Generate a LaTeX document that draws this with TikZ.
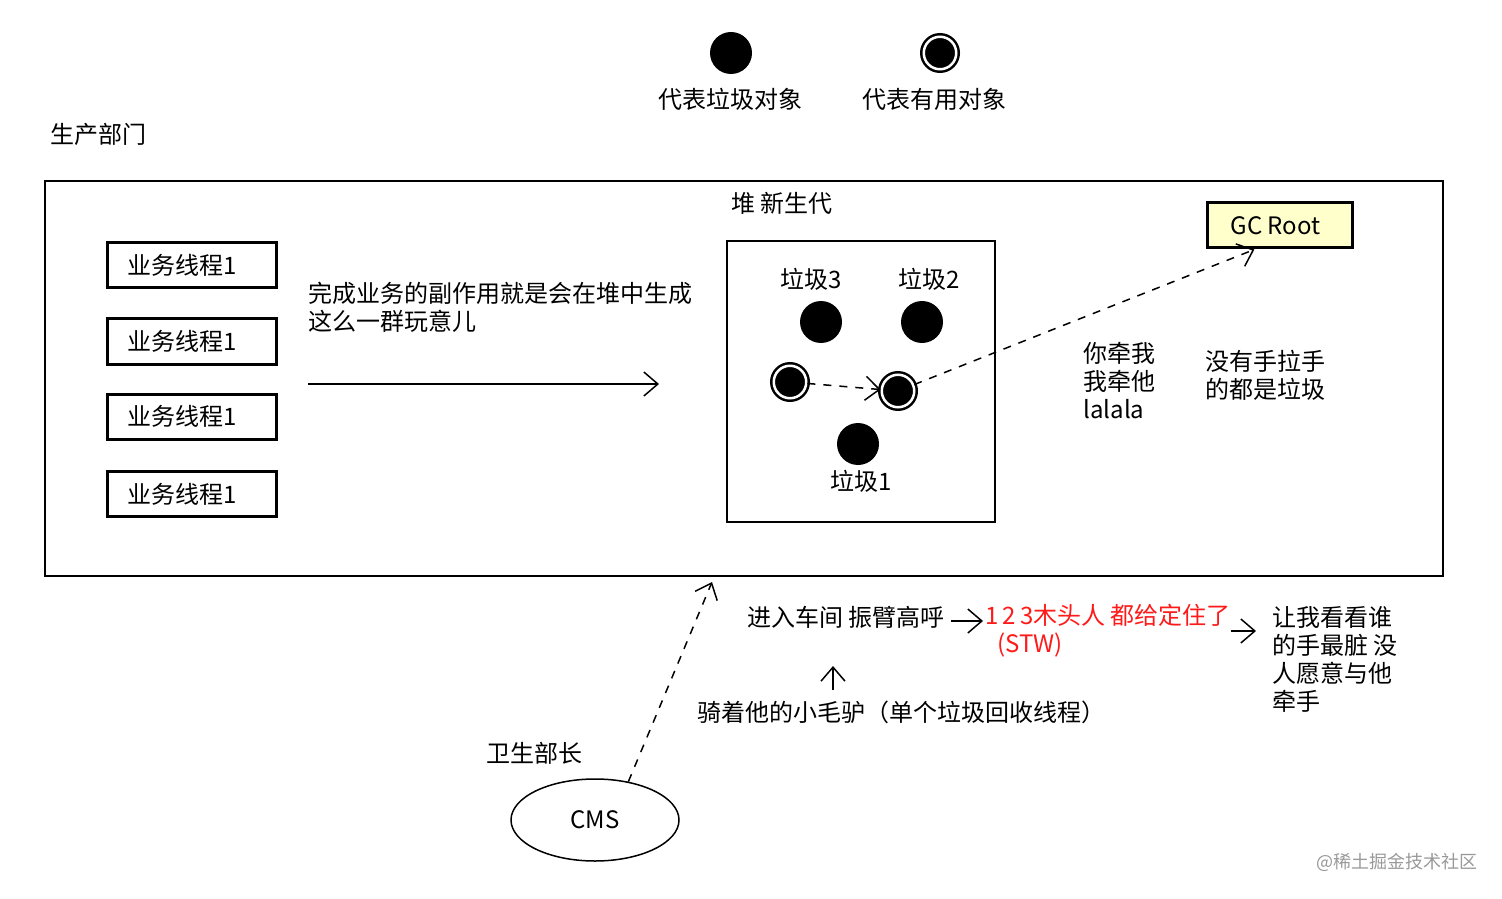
\documentclass[tikz,border=0pt]{standalone}
\usepackage{fontspec}
\setmainfont{Noto Sans CJK SC}
\usetikzlibrary{arrows.meta,shapes.geometric,calc}
\definecolor{gcyellow}{HTML}{FFFFCC}
\definecolor{stwred}{HTML}{FF1A1A}
\begin{document}
\begin{tikzpicture}[x=0.5pt,y=-0.5pt,
  every node/.style={font=\fontsize{12}{14}\selectfont},
  txt/.style={inner sep=0pt, align=left, anchor=west},
  ctxt/.style={inner sep=0pt, align=center},
  worker/.style={draw, line width=1.5pt, minimum width=84.5pt, minimum height=22.5pt, inner sep=0pt},
  garbage/.style={circle, fill=black, minimum size=21pt, inner sep=0pt},
  useful/.style={circle, fill=black, draw=black, double=white, double distance=1.25pt, line width=1.25pt, minimum size=16.25pt, inner sep=0pt},
  arr/.style={line width=0.75pt, -{Straight Barb[length=7pt,width=12pt]}},
  dasharr/.style={arr, dash pattern=on 4pt off 4pt},
]
\useasboundingbox (0,0) rectangle (1502,898);

% legend
\node[garbage] (lg) at (731,53) {};
\node[ctxt] (lgt) at (730,99) {代表垃圾对象};
\node[useful] (lu) at (940,53) {};
\node[ctxt] (lut) at (934,99) {代表有用对象};

\node[txt] (prodt) at (50,134) {生产部门};

% production box
\node[draw, line width=1pt, minimum width=699pt, minimum height=197.5pt, inner sep=0pt] (prod) at (744,378.5) {};

% workers
\node[worker] (w1) at (191.5,265.5) {业务线程1\hspace*{9pt}};
\node[worker] (w2) at (191.5,341.5) {业务线程1\hspace*{9pt}};
\node[worker] (w3) at (191.5,416.5) {业务线程1\hspace*{9pt}};
\node[worker] (w4) at (191.5,494) {业务线程1\hspace*{9pt}};

\node[txt] (desc) at (308,307) {完成业务的副作用就是会在堆中生成\\这么一群玩意儿};

% heap
\node[txt] (heapt) at (731,203) {堆 新生代};
\node[draw, line width=1pt, minimum width=134pt, minimum height=140.5pt, inner sep=0pt] (heap) at (861,381.5) {};
\node[ctxt] (g3t) at (811,279) {垃圾3};
\node[ctxt] (g2t) at (929,279) {垃圾2};
\node[garbage] (g3) at (821,322) {};
\node[garbage] (g2) at (922,322) {};
\node[useful] (u1) at (790,382) {};
\node[useful] (u2) at (898,391) {};
\node[garbage] (g1) at (858,444) {};
\node[ctxt] (g1t) at (861,481) {垃圾1};

% main arrow
\coordinate (a1) at (308,384);
\draw[arr] (a1) -- ([xshift=-33.5pt]a1 -| heap.west);

% GC root
\node[draw, line width=1.5pt, fill=gcyellow, minimum width=72.5pt, minimum height=22.5pt, inner sep=0pt] (gc) at (1279.5,225.5) {GC Root\hspace*{4pt}};
\coordinate (gcend) at ($(gc.south west)!0.33!(gc.south east)$);
\draw[dasharr] (u1) -- (u2);
\draw[dasharr] (u2) -- (gcend);

\node[txt] (pull) at (1083,381) {你牵我\\我牵他\\lalala};
\node[txt] (nohand) at (1205,375) {没有手拉手\\的都是垃圾};

% bottom
\node[txt] (t1) at (747,617) {进入车间 振臂高呼};
\node[txt, text=stwred] (stw) at (985,631) {1\,2\,3木头人 都给定住了\\\hspace*{6pt}(STW)};
\node[txt] (dirty) at (1272,659) {让我看看谁\\的手最脏 没\\人愿意与他\\牵手};
\draw[arr] ([xshift=3pt,yshift=-2pt]t1.east) -- ([xshift=-1pt,yshift=-2pt]t1.east -| stw.west);
\draw[arr] ([xshift=0pt]stw.east) -- ([xshift=-8pt]stw.east -| dirty.west);

\node[txt] (donkey) at (697,712) {骑着他的小毛驴（单个垃圾回收线程）};
\coordinate (ua) at (833,690);
\coordinate (ub) at (833,666);
\draw[arr] (ua) -- (ub);

\node[txt] (chief) at (486,753) {卫生部长};
\node[ellipse, draw, line width=0.75pt, minimum width=84pt, minimum height=41pt, inner sep=0pt] (cms) at (595,820) {CMS};
\coordinate (cmsend) at (712,582);
\draw[dasharr] (cms.49) -- (cmsend);

\node[anchor=east, inner sep=0pt, text=black!40, font=\fontsize{9}{11}\selectfont] (wm) at (1478,862) {@稀土掘金技术社区};
\end{tikzpicture}
\end{document}
